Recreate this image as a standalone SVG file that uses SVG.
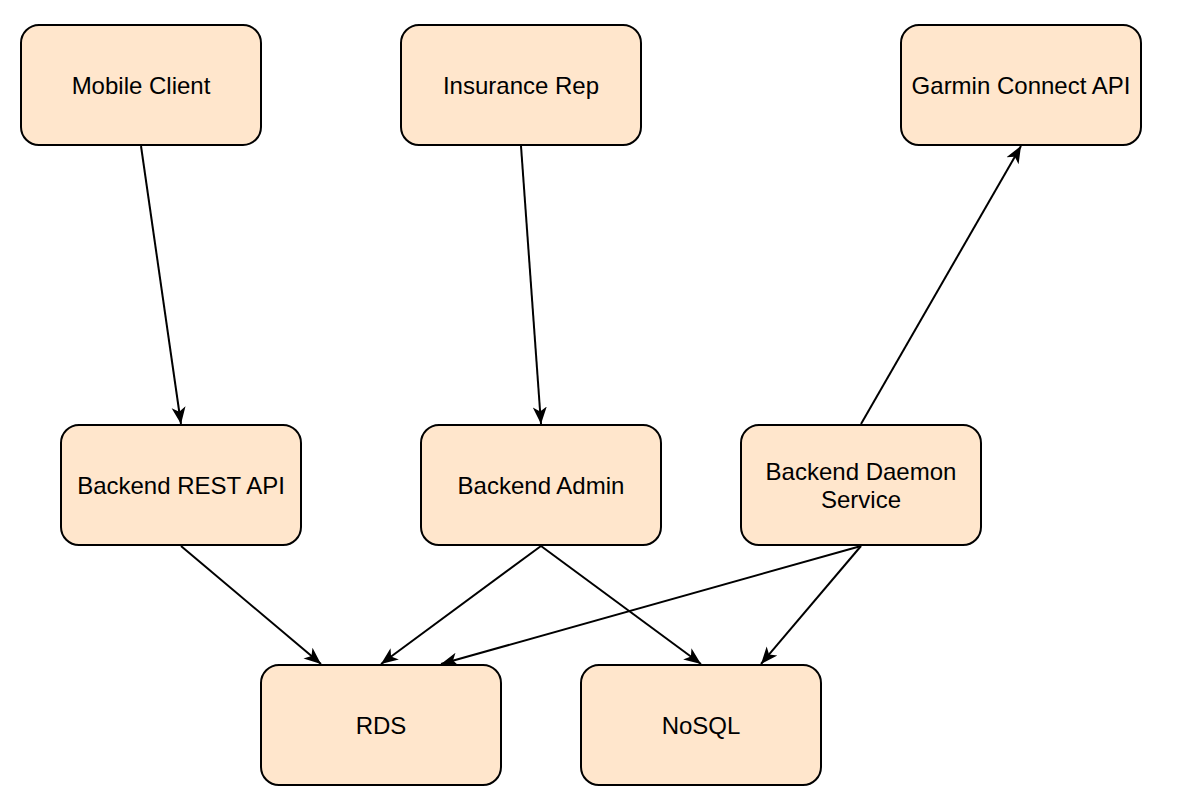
<svg xmlns="http://www.w3.org/2000/svg" width="1178" height="798" viewBox="0 0 1178 798">
<style>
.node rect{fill:#FFE6CC;stroke:#000;stroke-width:2}
.node text{font-family:Helvetica,"Liberation Sans",Arial,sans-serif;font-size:24px;fill:#000;text-anchor:middle}
.edge{stroke:#000;stroke-width:2;fill:none;marker-end:url(#arr)}
</style>
<defs>
<marker id="arr" markerUnits="userSpaceOnUse" markerWidth="18" markerHeight="16" viewBox="0 0 18 16" refX="17" refY="8" orient="auto">
<path d="M0,1 L17,8 L0,15 L4.5,8 Z" fill="#000"/>
</marker>
</defs>
<rect width="1178" height="798" fill="#fff"/>
<g id="connectors">
<line class="edge" x1="141" y1="146" x2="181" y2="424"/>
<line class="edge" x1="521" y1="146" x2="541" y2="424"/>
<line class="edge" x1="861" y1="424" x2="1021" y2="146"/>
<line class="edge" x1="181" y1="546" x2="321" y2="664"/>
<line class="edge" x1="541" y1="546" x2="381" y2="664"/>
<line class="edge" x1="541" y1="546" x2="701" y2="664"/>
<line class="edge" x1="861" y1="546" x2="441" y2="664"/>
<line class="edge" x1="861" y1="546" x2="761" y2="664"/>
</g>
<g id="mobile-client" class="node"><rect x="21" y="25" width="240" height="120" rx="18"/><text x="141" y="94">Mobile Client</text></g>
<g id="insurance-rep" class="node"><rect x="401" y="25" width="240" height="120" rx="18"/><text x="521" y="94">Insurance Rep</text></g>
<g id="garmin" class="node"><rect x="901" y="25" width="240" height="120" rx="18"/><text x="1021" y="94">Garmin Connect API</text></g>
<g id="rest-api" class="node"><rect x="61" y="425" width="240" height="120" rx="18"/><text x="181" y="494">Backend REST API</text></g>
<g id="admin" class="node"><rect x="421" y="425" width="240" height="120" rx="18"/><text x="541" y="494">Backend Admin</text></g>
<g id="daemon" class="node"><rect x="741" y="425" width="240" height="120" rx="18"/><text x="861" y="480">Backend Daemon</text><text x="861" y="508">Service</text></g>
<g id="rds" class="node"><rect x="261" y="665" width="240" height="120" rx="18"/><text x="381" y="734">RDS</text></g>
<g id="nosql" class="node"><rect x="581" y="665" width="240" height="120" rx="18"/><text x="701" y="734">NoSQL</text></g>
</svg>
